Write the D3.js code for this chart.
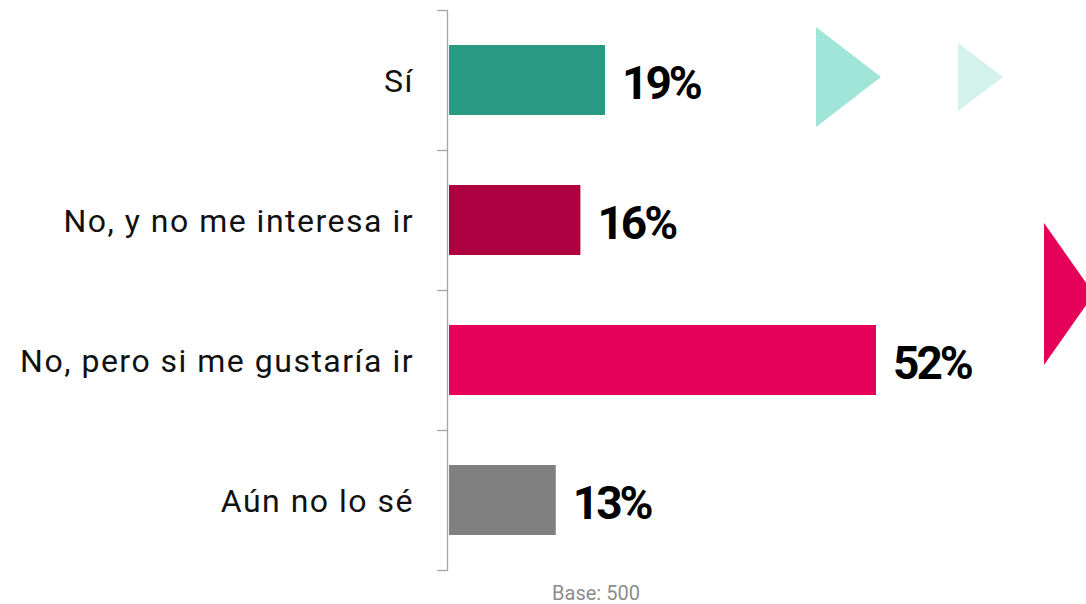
<!DOCTYPE html>
<html>
<head>
<meta charset="utf-8">
<script src="https://cdn.jsdelivr.net/npm/d3@7"></script>
<style>
  body { margin: 0; background: #fff; }
  svg { display: block; }
</style>
</head>
<body>
<div class="chart-container"></div>
<script>
const categories = ["Sí", "No, y no me interesa ir", "No, pero si me gustaría ir", "Aún no lo sé"];
const values = [19, 16, 52, 13];
const barColors = ["#2a9a84", "#ad0041", "#e5005a", "#808080"];
const baseNote = "Base: 500";

const width = 1086, height = 604;

const svg = d3.select(".chart-container").append("svg")
    .attr("width", width)
    .attr("height", height);

// decorative arrows on the right
const deco = [
    {pts: [[816, 27], [881, 77], [816, 127]], fill: "#a0e6d8"},
    {pts: [[958, 43], [1003, 77], [958, 111]], fill: "#d4f2ec"},
    {pts: [[1044, 223], [1094, 294], [1044, 365]], fill: "#e5005a"}
];
svg.selectAll(".deco")
    .data(deco)
    .enter().append("polygon")
    .attr("class", "deco")
    .attr("points", d => d.pts.map(p => p.join(",")).join(" "))
    .style("fill", d => d.fill);

const x = d3.scaleLinear().domain([0, 52]).range([449, 876]);
const y = d3.scaleBand().domain(categories).range([10, 570]).paddingInner(0.5).paddingOuter(0.25);

// axis line + ticks at band edges
const axisX = 447.5;
svg.append("line")
    .attr("x1", axisX).attr("x2", axisX)
    .attr("y1", 10).attr("y2", 571)
    .style("stroke", "#a6a6a6").style("stroke-width", 1.3);

const edges = categories.map(c => y(c) - y.step() * y.paddingInner() / 2);
edges.push(y(categories[categories.length - 1]) + y.bandwidth() + y.step() * y.paddingInner() / 2);
svg.selectAll(".tick")
    .data(edges)
    .enter().append("line")
    .attr("class", "tick")
    .attr("x1", 437).attr("x2", axisX)
    .attr("y1", d => d + 0.5).attr("y2", d => d + 0.5)
    .style("stroke", "#a6a6a6").style("stroke-width", 1.3);

svg.selectAll(".bar")
    .data(values)
    .enter().append("rect")
    .attr("class", "bar")
    .attr("x", x(0))
    .attr("y", (d, i) => y(categories[i]))
    .attr("width", d => x(d) - x(0))
    .attr("height", y.bandwidth())
    .style("fill", (d, i) => barColors[i]);

svg.selectAll(".cat")
    .data(categories)
    .enter().append("text")
    .attr("class", "cat")
    .attr("x", 414)
    .attr("y", d => y(d) + y.bandwidth() / 2 + 12)
    .attr("text-anchor", "end")
    .style("font-family", "Roboto, sans-serif")
    .style("font-weight", 400)
    .style("font-size", "32px")
    .style("letter-spacing", "1.5px")
    .style("fill", "#111")
    .text(d => d);

svg.selectAll(".val")
    .data(values)
    .enter().append("text")
    .attr("class", "val")
    .attr("x", d => x(d) + 17)
    .attr("y", (d, i) => y(categories[i]) + y.bandwidth() / 2 + 19)
    .style("font-family", "Roboto, sans-serif")
    .style("font-weight", 700)
    .style("font-size", "46px")
    .style("letter-spacing", "-3px")
    .style("fill", "#000")
    .text(d => d + "%");

svg.append("text")
    .attr("x", 596)
    .attr("y", 600)
    .attr("text-anchor", "middle")
    .style("font-family", "Roboto, sans-serif")
    .style("font-size", "20px")
    .style("fill", "#8c8c8c")
    .text(baseNote);
</script>
</body>
</html>
